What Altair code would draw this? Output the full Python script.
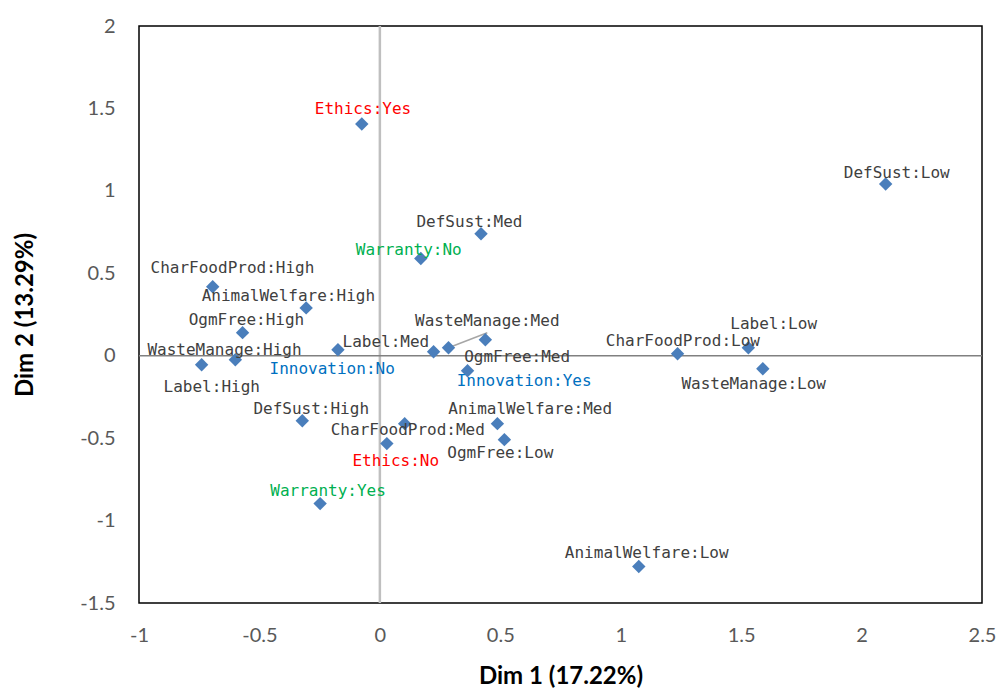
import altair as alt
import pandas as pd

names = ["Ethics:Yes", "DefSust:Low", "DefSust:Med", "Warranty:No", "CharFoodProd:High",
         "AnimalWelfare:High", "OgmFree:High", "Label:High", "WasteManage:High", "Innovation:No",
         "Label:Med", "WasteManage:Med", "OgmFree:Med", "Innovation:Yes", "CharFoodProd:Low",
         "Label:Low", "WasteManage:Low", "DefSust:High", "CharFoodProd:Med", "Ethics:No",
         "AnimalWelfare:Med", "OgmFree:Low", "Warranty:Yes", "AnimalWelfare:Low"]
dim1 = [-0.075, 2.10, 0.42, 0.17, -0.694, -0.306, -0.57, -0.74, -0.60, -0.174,
        0.223, 0.285, 0.438, 0.364, 1.236, 1.53, 1.59, -0.322, 0.103, 0.029,
        0.488, 0.517, -0.248, 1.075]
dim2 = [1.406, 1.042, 0.74, 0.59, 0.418, 0.29, 0.14, -0.055, -0.024, 0.036,
        0.024, 0.048, 0.097, -0.091, 0.012, 0.048, -0.079, -0.394, -0.412, -0.533,
        -0.412, -0.509, -0.897, -1.279]
# label anchor positions (data units)
label_x = [-0.07, 2.146, 0.372, 0.12, -0.612, -0.38, -0.554, -0.698, -0.645, -0.198,
           0.025, 0.446, 0.570, 0.599, 1.258, 1.635, 1.552, -0.285, 0.116, 0.066,
           0.624, 0.5, -0.215, 1.108]
label_y = [1.497, 1.109, 0.812, 0.642, 0.533, 0.364, 0.218, -0.188, 0.036, -0.079,
           0.085, 0.212, -0.006, -0.152, 0.091, 0.194, -0.170, -0.321, -0.448, -0.636,
           -0.321, -0.588, -0.818, -1.194]
# leader line for WasteManage:Med
leader_x = [0.285]
leader_y = [0.048]
leader_x2 = [0.446]
leader_y2 = [0.139]

x_ticks = [-1, -0.5, 0, 0.5, 1, 1.5, 2, 2.5]
y_ticks = [-1.5, -1, -0.5, 0, 0.5, 1, 1.5, 2]

group_colors = {"Ethics": "#FF0000", "Warranty": "#00B050", "Innovation": "#0070C0"}
label_colors = [group_colors.get(n.split(":")[0], "#404040") for n in names]

df = pd.DataFrame({"name": names, "d1": dim1, "d2": dim2,
                   "lx": label_x, "ly": label_y, "col": label_colors})
leader = pd.DataFrame({"x": leader_x, "y": leader_y, "x2": leader_x2, "y2": leader_y2})

xscale = alt.Scale(domain=[-1, 2.5], nice=False, zero=False)
yscale = alt.Scale(domain=[-1.5, 2], nice=False, zero=False)

font = "Lato"
xaxis = alt.Axis(values=x_ticks, labelExpr="datum.value + ''", grid=False, ticks=False,
                 domain=False, labelFlush=False, labelOverlap=False,
                 labelFontSize=20, labelColor="#595959", labelFont=font,
                 labelPadding=22, title="Dim 1 (17.22%)", titleFont=font, titleFontSize=24,
                 titleFontWeight="bold", titleColor="#000000", titlePadding=19)
yaxis = alt.Axis(values=y_ticks, labelExpr="datum.value + ''", grid=False, ticks=False,
                 domain=False, labelFlush=False, labelOverlap=False,
                 labelFontSize=20, labelColor="#595959", labelFont=font,
                 labelPadding=24, title="Dim 2 (13.29%)", titleFont=font, titleFontSize=24,
                 titleFontWeight="bold", titleColor="#000000", titlePadding=42)

zero_v = alt.Chart(pd.DataFrame({"v": [0]})).mark_rule(color="#BFBFBF", strokeWidth=2.5).encode(
    x=alt.X("v:Q", scale=xscale, axis=xaxis))
zero_h = alt.Chart(pd.DataFrame({"v": [0]})).mark_rule(color="#808080", strokeWidth=1.5).encode(
    y=alt.Y("v:Q", scale=yscale, axis=yaxis))

lead = alt.Chart(leader).mark_rule(color="#A6A6A6", strokeWidth=1.5).encode(
    x=alt.X("x:Q", scale=xscale), y=alt.Y("y:Q", scale=yscale),
    x2="x2:Q", y2="y2:Q")

pts = alt.Chart(df).mark_point(shape="diamond", filled=True, size=180, color="#4A7EBB",
                               opacity=1).encode(
    x=alt.X("d1:Q", scale=xscale), y=alt.Y("d2:Q", scale=yscale))

txt = alt.Chart(df).mark_text(font="DejaVu Sans Mono", fontSize=16, align="center",
                              baseline="middle").encode(
    x=alt.X("lx:Q", scale=xscale), y=alt.Y("ly:Q", scale=yscale),
    text="name:N", color=alt.Color("col:N", scale=None))

chart = alt.layer(zero_v, zero_h, lead, pts, txt).properties(
    width=843, height=577,
    autosize=alt.AutoSizeParams(type="none"),
    padding={"left": 139, "top": 26, "right": 17, "bottom": 87},
    background="white",
).configure_view(stroke="#000000", strokeWidth=1.5)

chart.save("out.html", embed_options={"renderer": "svg", "actions": False})
